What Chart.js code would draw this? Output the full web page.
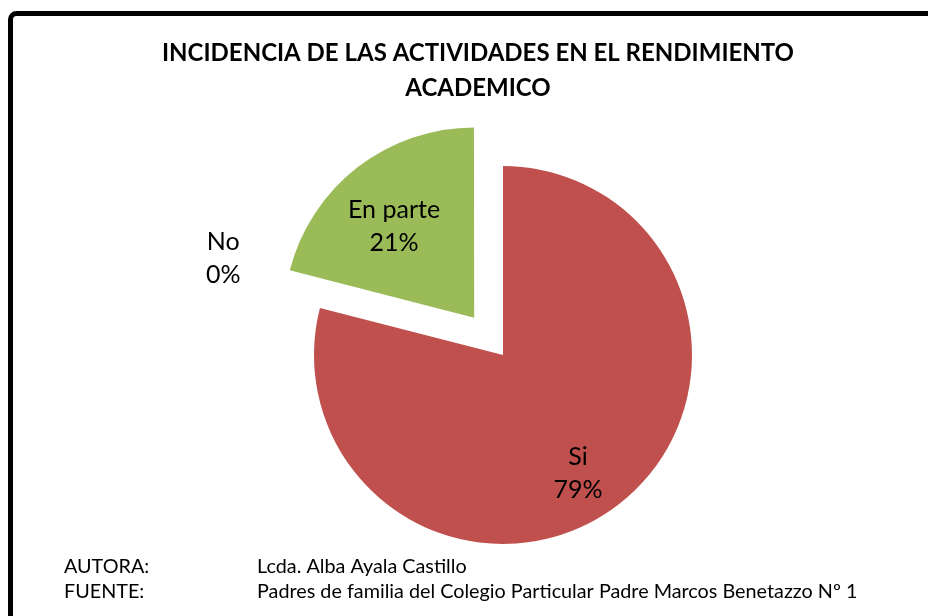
<!DOCTYPE html>
<html>
<head>
<meta charset="utf-8">
<script src="https://cdn.jsdelivr.net/npm/chart.js@4.4.1/dist/chart.umd.min.js"></script>
<style>
  html, body { margin: 0; padding: 0; background: #ffffff; overflow: hidden; }
  #wrap { position: relative; width: 928px; height: 616px; }
  canvas { display: block; }
</style>
</head>
<body>
<div id="wrap"><canvas id="c" width="928" height="616"></canvas></div>
<script>
// ---- data ----
const categories = ["Si", "En parte", "No"];
const values = [79, 21, 0];
const percentLabels = ["79%", "21%", "0%"];
const colors = ["#C0504D", "#9BBB59", "#4F81BD"];
const titleLines = ["INCIDENCIA DE LAS ACTIVIDADES EN EL RENDIMIENTO", "ACADEMICO"];
const footerKeys = ["AUTORA:", "FUENTE:"];
const footerValues = ["Lcda. Alba Ayala Castillo", "Padres de familia del Colegio Particular Padre Marcos Benetazzo Nº 1"];

// ---- style ----
const FONT = "Lato, 'Open Sans', 'Liberation Sans', sans-serif";
// Chart.js v4 moves an arc by offset/4, so 188 => ~47px explode
const explode = [0, 188, 0];
// label placement: fraction of radius along the slice mid-angle, with an angle tweak (deg)
const labelFrac = [0.74, 0.645, null];
const labelAngleTweak = [5.4, -3.3, 0];

const decorPlugin = {
  id: 'decor',
  beforeDraw(chart) {
    const ctx = chart.ctx;
    ctx.save();
    ctx.fillStyle = '#ffffff';
    ctx.fillRect(0, 0, chart.width, chart.height);
    ctx.strokeStyle = '#000000';
    ctx.lineWidth = 5;
    ctx.beginPath();
    ctx.roundRect(10.5, 13.5, 1000, 700, 6);
    ctx.stroke();
    ctx.restore();
  },
  afterDraw(chart) {
    const ctx = chart.ctx;
    ctx.save();
    ctx.fillStyle = '#000000';
    ctx.textBaseline = 'middle';
    // title
    ctx.textAlign = 'center';
    ctx.font = "bold 24px " + FONT;
    ctx.fillText(titleLines[0], 478, 53);
    ctx.fillText(titleLines[1], 478, 88);
    // footer
    ctx.textAlign = 'left';
    ctx.font = "19.8px " + FONT;
    footerKeys.forEach((k, i) => {
      ctx.fillText(k, 64, 567 + i * 25);
      ctx.fillText(footerValues[i], 257, 567 + i * 25);
    });
    // data labels
    const meta = chart.getDatasetMeta(0);
    ctx.textAlign = 'center';
    ctx.font = "25px " + FONT;
    meta.data.forEach((arc, i) => {
      const p = arc.getProps(['x', 'y', 'startAngle', 'endAngle', 'outerRadius']);
      let lx, ly;
      if (labelFrac[i] === null) {
        lx = p.x - p.outerRadius * 1.48;
        ly = p.y - p.outerRadius * 0.51;
      } else {
        const mid = (p.startAngle + p.endAngle) / 2;
        const shift = (arc.options.offset || 0) / 4;
        const ox = p.x + Math.cos(mid) * shift;
        const oy = p.y + Math.sin(mid) * shift;
        const a = mid + labelAngleTweak[i] * Math.PI / 180;
        const d = p.outerRadius * labelFrac[i];
        lx = ox + Math.cos(a) * d;
        ly = oy + Math.sin(a) * d;
      }
      ctx.fillText(categories[i], lx, ly - 16.5);
      ctx.fillText(percentLabels[i], lx, ly + 16.5);
    });
    ctx.restore();
  }
};

new Chart(document.getElementById('c'), {
  type: 'pie',
  data: {
    labels: categories,
    datasets: [{
      data: values,
      backgroundColor: colors,
      borderWidth: 0,
      offset: explode,
      radius: 189
    }]
  },
  options: {
    responsive: false,
    animation: false,
    layout: { padding: { left: 100, right: 22, top: 130, bottom: 36 } },
    plugins: {
      legend: { display: false },
      tooltip: { enabled: false },
      title: { display: false }
    }
  },
  plugins: [decorPlugin]
});
</script>
</body>
</html>
